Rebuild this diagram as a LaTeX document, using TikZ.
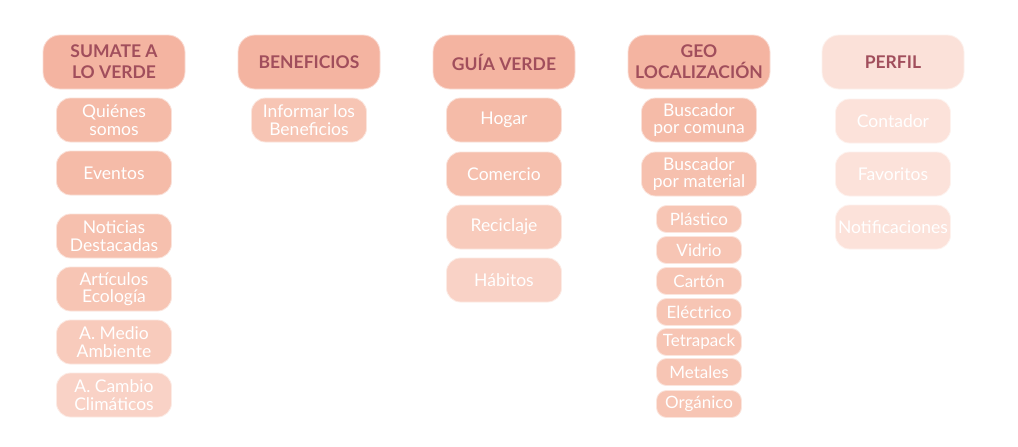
\documentclass[tikz,border=0pt]{standalone}
\usepackage{fontspec}
\setmainfont{Lato}
\begin{document}
\begin{tikzpicture}[x=1pt,y=-1pt,
  box/.style={rounded corners=17pt, minimum width=142pt, minimum height=54pt, inner sep=0pt,
    draw=white!55!#1, line width=0.8pt, fill=#1, text=hdrtext, align=center,
    font=\fontsize{17.5}{21}\selectfont\bfseries},
  item/.style={rounded corners=14pt, minimum width=115pt, minimum height=44pt, inner sep=0pt,
    draw=white!55!#1, line width=0.8pt, fill=#1, text=white, align=center,
    font=\fontsize{17.5}{17.5}\selectfont},
  small/.style={rounded corners=10pt, minimum width=85pt, minimum height=27pt, inner sep=0pt,
    draw=white!55!#1, line width=0.8pt, fill=#1, text=white, align=center,
    font=\fontsize{17}{17}\selectfont}]
\definecolor{hdrtext}{HTML}{A14E5C}
\definecolor{ch}{HTML}{F4B4A1}
\definecolor{cp}{HTML}{FBE1D9}
\definecolor{ca}{HTML}{F5BBA8}
\definecolor{cb}{HTML}{F6C0AE}
\definecolor{cc}{HTML}{F7C5B4}
\definecolor{cd}{HTML}{F8CBBC}
\definecolor{ce}{HTML}{F9D2C6}
\definecolor{cf}{HTML}{FCE2DA}
\useasboundingbox (0,0) rectangle (1018,447);
\fill[white] (0,0) rectangle (1018,447);
% headers
\node[box=ch] (h1) at (114,62) {SUMATE A\\LO VERDE};
\node[box=ch] (h2) at (309,62) {BENEFICIOS};
\node[box=ch] (h3) at (504,62) {GUÍA VERDE};
\node[box=ch] (h4) at (699,62) {GEO\\LOCALIZACIÓN};
\node[box=cp] (h5) at (893,62) {PERFIL};
% column 1
\node[item=ca] (a1) at (114,120) {Quiénes\\somos};
\node[item=ca] (a2) at (114,173) {Eventos};
\node[item=cb] (a3) at (114,236) {Noticias\\Destacadas};
\node[item=cc] (a4) at (114,289) {Artículos\\Ecología};
\node[item=cd] (a5) at (114,342) {A. Medio\\Ambiente};
\node[item=ce] (a6) at (114,395) {A. Cambio\\Climáticos};
% column 2
\node[item=cc] (b1) at (309,120) {Informar los\\Beneficios};
% column 3
\node[item=ca] (c1) at (504,120) {Hogar};
\node[item=cb] (c2) at (504,174) {Comercio};
\node[item=cd] (c3) at (504,227) {Reciclaje};
\node[item=ce] (c4) at (504,280) {Hábitos};
% column 4
\node[item=ca] (d1) at (699,120) {Buscador\\por comuna};
\node[item=cb] (d2) at (699,174) {Buscador\\por material};
\node[small=cc] (e1) at (699,219) {Plástico};
\node[small=cc] (e2) at (699,250) {Vidrio};
\node[small=cc] (e3) at (699,281) {Cartón};
\node[small=cc] (e4) at (699,312) {Eléctrico};
\node[small=cc] (e5) at (699,342) {Tetrapack};
\node[small=cc] (e6) at (699,372) {Metales};
\node[small=cc] (e7) at (699,404) {Orgánico};
% column 5
\node[item=cf] (f1) at (893,121) {Contador};
\node[item=cf] (f2) at (893,174) {Favoritos};
\node[item=cf] (f3) at (893,227) {Notificaciones};
\end{tikzpicture}
\end{document}
